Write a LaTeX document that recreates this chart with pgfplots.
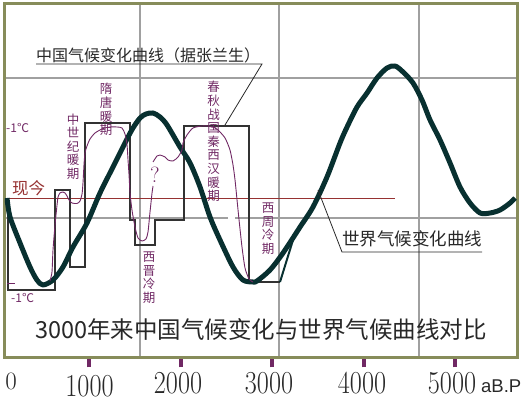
\documentclass[border=0pt]{standalone}
\usepackage{pgfplots}
\pgfplotsset{compat=1.18}
\usepackage{graphicx}
\usepackage{fontspec}
\newfontfamily\cjk{Noto Sans CJK SC}
\newfontfamily\lsans{Liberation Sans}
\definecolor{tealc}{RGB}{8,48,48}
\definecolor{boxc}{RGB}{50,50,50}
\definecolor{purp}{RGB}{112,40,100}
\definecolor{redc}{RGB}{150,50,50}
\definecolor{gridc}{RGB}{160,160,160}
\definecolor{framec}{RGB}{135,140,90}
\definecolor{txt}{RGB}{40,40,40}
\begin{document}
\begin{tikzpicture}
\useasboundingbox (0pt,0pt) rectangle (525pt,398pt);
% background grid
\begin{scope}[gridc, line width=2.5pt]
\draw (140pt,40.5pt) -- (140pt,394.5pt);
\draw (279pt,40.5pt) -- (279pt,394.5pt);
\draw (419pt,40.5pt) -- (419pt,394.5pt);
\draw (5pt,320pt) -- (517pt,320pt);
\draw (5pt,180pt) -- (228pt,180pt);
\draw (235pt,180pt) -- (517pt,180pt);
\end{scope}
\begin{axis}[
  at={(5pt,40.5pt)}, anchor=south west,
  scale only axis, width=512pt, height=354pt,
  xmin=83, xmax=5672, ymin=40.5, ymax=394.5,
  axis line style={draw=framec, line width=3pt},
  xtick={1000,2000,3000,4000,5000}, xticklabels={},
  xtick pos=left, tick align=outside, major tick length=10pt,
  xtick style={draw=purp, line width=4pt},
  ytick=\empty,
]
% present-day line
\addplot[redc, line width=1pt] coordinates {(105,199) (4340,199)};
% Chinese climate step curve
\addplot[boxc, line width=2.7pt, line join=miter] coordinates {
(116,198) (116,108) (629,108) (629,208) (793,208) (793,131) (956,131)
(956,275) (1448,275) (1448,178) (1502,178) (1502,153) (1721,153)
(1721,178) (2037,178) (2037,272) (2747,272) (2747,116) (3085,116)};
\addplot[tealc, line width=2pt] coordinates {(3085,116) (3227,158)};
% world climate curve
\addplot[tealc, line width=5pt, smooth, tension=0.5, line join=round] coordinates {
(105,200) (138,181) (247,155) (356,131) (432,118) (498,113) (607,118)
(716,131) (825,151) (978,175) (1120,205) (1262,231) (1415,259) (1480,270)
(1557,280) (1622,284) (1699,285) (1775,281) (1852,273) (1993,251)
(2103,235) (2212,211) (2321,181) (2430,158) (2572,131) (2681,118)
(2790,116) (2834,117) (2976,128) (3118,145) (3304,171) (3445,191)
(3598,221) (3740,255) (3817,271) (3926,291) (4035,305) (4144,320)
(4253,330) (4341,332) (4428,326) (4537,315) (4635,298) (4723,278)
(4832,258) (4941,235) (5050,211) (5159,195) (5269,185) (5378,185)
(5487,188) (5596,195) (5651,200)};
% Chinese climate curve (Zhang Lansheng)
\addplot[purp, line width=0.9pt, smooth, tension=0.4] coordinates {
(574,117) (596,126) (607,148) (629,173) (651,193) (662,201) (683,205)
(716,206) (738,205) (760,202) (782,198) (814,195) (869,194.5) (902,197)
(924,204) (935,216) (945,233) (956,245) (978,252) (1011,259) (1066,265)
(1153,269.5) (1229,271) (1306,271) (1360,270) (1393,264) (1415,253)
(1426,238) (1437,223) (1448,205) (1469,188) (1502,171) (1535,160)
(1579,157) (1622,159) (1644,166) (1666,186) (1688,205) (1699,212)};
\addplot[purp, line width=0.9pt, smooth, tension=0.4] coordinates {
(1699,236) (1742,242) (1775,243) (1830,241) (1862,238) (1917,237)
(1972,241) (2015,248) (2026,255) (2070,263) (2135,270) (2234,272)
(2299,272) (2354,271) (2408,268) (2485,260) (2539,248) (2572,233)
(2594,218) (2616,198) (2638,178) (2670,151) (2703,130) (2747,119)
(2790,116)};
\end{axis}
% annotations
\node[anchor=west, inner sep=0, text=txt, font=\cjk\fontsize{16}{16}\selectfont] at (36pt,343pt) {中国气候变化曲线（据张兰生）};
\draw[txt, line width=0.8pt] (36pt,334pt) -- (262pt,334pt) -- (225pt,273pt);
\node[anchor=west, inner sep=0, text=txt, font=\cjk\fontsize{17.5}{17.5}\selectfont] at (342pt,159pt) {世界气候变化曲线};
\draw[txt, line width=0.8pt] (318pt,208pt) -- (342pt,146pt) -- (482pt,146pt);
\node[anchor=west, inner sep=0, text=txt, font=\cjk\fontsize{23.5}{23.5}\selectfont] at (35pt,68pt) {3000年来中国气候变化与世界气候曲线对比};
\node[anchor=west, inner sep=0, text=redc, font=\cjk\fontsize{16.5}{16.5}\selectfont] at (12pt,210pt) {现今};
\begin{scope}[every node/.style={text=purp, inner sep=0, align=center, font=\cjk\fontsize{12.5}{13.6}\selectfont}]
\node at (73pt,251.5pt) {中\\世\\纪\\暖\\期};
\node at (106pt,288.5pt) {隋\\唐\\暖\\期};
\node at (213.5pt,256.5pt) {春\\秋\\战\\国\\秦\\西\\汉\\暖\\期};
\node at (149pt,120.5pt) {西\\晋\\冷\\期};
\node at (268pt,169.5pt) {西\\周\\冷\\期};
\end{scope}
\node[text=purp, inner sep=0, font=\fontsize{22}{22}\selectfont] at (155pt,223pt) {?};
\node[anchor=west, inner sep=0, text=purp, font=\cjk\fontsize{12}{12}\selectfont] at (6pt,270pt) {-1℃};
\node[anchor=west, inner sep=0, text=purp, font=\cjk\fontsize{12}{12}\selectfont] at (11pt,100pt) {-1℃};
\draw[purp, line width=0.8pt] (7pt,115pt) -- (15pt,115pt);
% tick labels
\begin{scope}[every node/.style={inner sep=0, text=txt, font=\fontsize{32}{32}\selectfont}]
\node at (89.5pt,12pt) {\scalebox{0.82}[1]{1000}};
\node at (178pt,15pt) {\scalebox{0.82}[1]{2000}};
\node at (269pt,15pt) {\scalebox{0.82}[1]{3000}};
\node at (362pt,15pt) {\scalebox{0.82}[1]{4000}};
\node at (452pt,15pt) {\scalebox{0.82}[1]{5000}};
\end{scope}
\node[inner sep=0, text=txt, font=\fontsize{25}{25}\selectfont] at (11pt,16.5pt) {0};
\node[anchor=base west, inner sep=0, text=txt, font=\lsans\fontsize{18.5}{18.5}\selectfont] at (481pt,5pt) {aB.P};
\end{tikzpicture}
\end{document}
